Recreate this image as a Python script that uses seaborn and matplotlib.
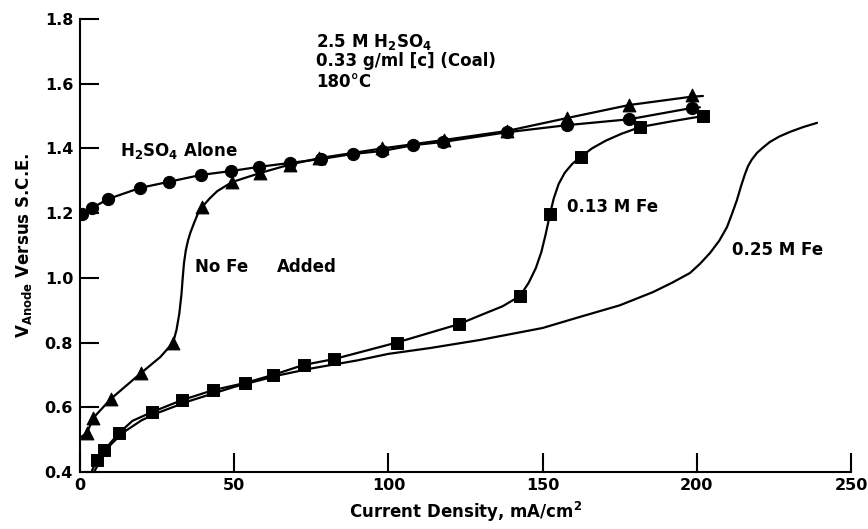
import matplotlib
matplotlib.use("Agg")
import matplotlib.pyplot as plt
import seaborn as sns

# --- data ---
# H2SO4 alone (circles)
circ_x = [0.6, 3.9, 9.2, 19.5, 28.9, 39.2, 48.9, 58.0, 68.0, 78.0, 88.5, 98.0, 108.0, 117.7, 138.5, 158.0, 178.0, 198.4]
circ_y = [1.197, 1.216, 1.244, 1.278, 1.297, 1.318, 1.330, 1.343, 1.355, 1.367, 1.383, 1.392, 1.410, 1.420, 1.450, 1.472, 1.490, 1.525]
circ_line_x = [0.0] + circ_x + [201.0]
circ_line_y = [1.190] + circ_y + [1.527]

# No Fe added (triangles)
tri_x = [2.2, 4.3, 10.0, 19.8, 30.2, 39.6, 49.3, 58.4, 68.0, 77.6, 98.0, 118.0, 138.5, 158.0, 178.0, 198.4]
tri_y = [0.520, 0.567, 0.626, 0.706, 0.800, 1.219, 1.296, 1.324, 1.350, 1.370, 1.400, 1.426, 1.454, 1.494, 1.534, 1.565]
tri_line_x = [0.3, 2.2, 4.3, 10.0, 19.8, 26.0, 30.2, 31.3, 32.2, 32.9, 33.3, 33.7, 34.3, 35.0, 35.8, 37.0, 38.2, 39.6,
              42.0, 44.5, 49.3, 58.4, 68.0, 77.6, 98.0, 118.0, 138.5, 158.0, 178.0, 198.4, 202.0]
tri_line_y = [0.508, 0.520, 0.567, 0.626, 0.706, 0.755, 0.800, 0.840, 0.890, 0.950, 1.000, 1.045, 1.085, 1.115, 1.140, 1.170,
              1.198, 1.219, 1.245, 1.268, 1.296, 1.324, 1.350, 1.370, 1.400, 1.426, 1.454, 1.494, 1.534, 1.560, 1.562]

# 0.13 M Fe (squares)
sq_x = [5.5, 7.9, 12.6, 23.3, 33.0, 43.2, 53.5, 62.6, 72.6, 82.4, 102.7, 122.9, 142.7, 152.4, 162.4, 181.6, 202.0]
sq_y = [0.437, 0.468, 0.520, 0.585, 0.622, 0.653, 0.675, 0.700, 0.731, 0.749, 0.800, 0.857, 0.944, 1.197, 1.374, 1.466, 1.500]
sq_line_x = [3.9, 5.5, 7.9, 12.6, 17.0, 23.3, 33.0, 43.2, 53.5, 62.6, 72.6, 82.4, 102.7, 122.9, 130.0, 137.0, 142.7,
             145.5, 147.8, 149.6, 151.0, 152.4, 153.6, 155.2, 157.2, 159.6, 162.4, 166.0, 170.5, 175.5, 181.6, 192.0, 202.0]
sq_line_y = [0.405, 0.437, 0.468, 0.520, 0.558, 0.585, 0.622, 0.653, 0.675, 0.700, 0.731, 0.749, 0.800, 0.857, 0.885, 0.912, 0.944,
             0.985, 1.030, 1.080, 1.135, 1.197, 1.245, 1.290, 1.325, 1.352, 1.374, 1.400, 1.424, 1.445, 1.466, 1.484, 1.500]

# 0.25 M Fe (line only)
fe25_x = [4.5, 7.0, 10.0, 14.0, 20.0, 25.0, 35.0, 50.0, 65.0, 75.0, 90.0, 100.0, 113.5, 129.7, 150.0, 162.0, 175.0,
          185.8, 192.0, 197.8, 201.0, 204.3, 207.3, 209.8, 211.5, 213.0, 214.4, 215.6, 216.6, 217.8, 219.5, 221.5,
          223.7, 226.8, 230.2, 234.5, 239.0]
fe25_y = [0.400, 0.440, 0.485, 0.522, 0.560, 0.582, 0.618, 0.663, 0.700, 0.720, 0.745, 0.765, 0.783, 0.808, 0.845, 0.879, 0.915,
          0.956, 0.985, 1.015, 1.043, 1.077, 1.115, 1.157, 1.200, 1.240, 1.285, 1.320, 1.345, 1.365, 1.386, 1.403,
          1.420, 1.437, 1.451, 1.466, 1.479]

FONT = "DejaVu Sans"
sns.set_style("ticks")
plt.rcParams.update({
    "font.family": [FONT],
    "font.weight": "bold",
    "text.color": "black",
    "axes.labelcolor": "black",
    "mathtext.fontset": "custom",
    "mathtext.rm": FONT + ":bold",
    "mathtext.it": FONT + ":bold",
    "mathtext.bf": FONT + ":bold",
    "mathtext.default": "rm",
})

fig = plt.figure(figsize=(8.68, 5.29), dpi=100)
ax = fig.add_axes([0.0922, 0.1078, 0.8882, 0.8563])

for lx, ly in [(circ_line_x, circ_line_y), (tri_line_x, tri_line_y),
               (sq_line_x, sq_line_y), (fe25_x, fe25_y)]:
    sns.lineplot(x=lx, y=ly, ax=ax, sort=False, estimator=None, color="black", lw=1.6)

sns.scatterplot(x=circ_x, y=circ_y, ax=ax, marker="o", s=78, color="black", edgecolor="black", zorder=3)
sns.scatterplot(x=tri_x, y=tri_y, ax=ax, marker="^", s=85, color="black", edgecolor="black", zorder=3)
sns.scatterplot(x=sq_x, y=sq_y, ax=ax, marker="s", s=75, color="black", edgecolor="black", zorder=3)

ax.set_xlim(0, 250)
ax.set_ylim(0.4, 1.8)
ax.set_xticks([0, 50, 100, 150, 200, 250])
ax.set_yticks([0.4, 0.6, 0.8, 1.0, 1.2, 1.4, 1.6, 1.8])
ax.set_yticklabels(["0.4", "0.6", "0.8", "1.0", "1.2", "1.4", "1.6", "1.8"])
ax.tick_params(direction="in", length=14, width=1.5, labelsize=11.5, colors="black")
ax.tick_params(axis="y", pad=5)
ax.tick_params(axis="x", pad=4)
for lab in ax.get_xticklabels() + ax.get_yticklabels():
    lab.set_fontweight("bold")
for side in ["top", "right"]:
    ax.spines[side].set_visible(False)
for side in ["left", "bottom"]:
    ax.spines[side].set_linewidth(1.5)
    ax.spines[side].set_color("black")

ax.set_xlabel("Current Density, mA/cm$^2$", fontsize=12, fontweight="bold", labelpad=5)
ax.set_ylabel("V$_{Anode}$ Versus S.C.E.", fontsize=12, fontweight="bold", labelpad=8)

txt = dict(fontsize=12, fontweight="bold", color="black")
ax.text(76.6, 1.713, "2.5 M H$_2$SO$_4$", **txt)
ax.text(76.6, 1.655, "0.33 g/ml [c] (Coal)", **txt)
ax.text(76.6, 1.590, "180°C", **txt)
ax.text(13, 1.395, "H$_2$SO$_4$ Alone", va="center", **txt)
ax.text(37.3, 1.035, "No Fe", va="center", **txt)
ax.text(63.9, 1.035, "Added", va="center", **txt)
ax.text(158, 1.219, "0.13 M Fe", va="center", **txt)
ax.text(211.4, 1.086, "0.25 M Fe", va="center", **txt)

fig.savefig("out.png", dpi=100)
